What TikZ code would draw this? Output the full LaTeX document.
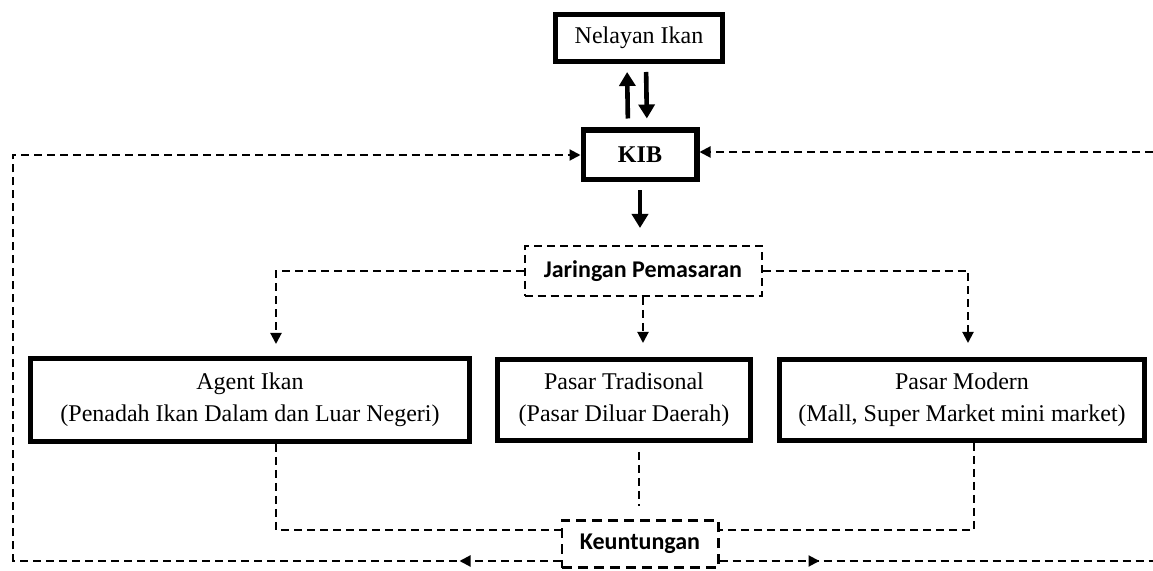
\documentclass[tikz,border=0pt]{standalone}
\usepackage{fontspec}
\setmainfont{Liberation Serif}
\newfontfamily\calibri{Carlito}
\usetikzlibrary{positioning}
\usetikzlibrary{arrows.meta}
\usetikzlibrary{decorations.markings}
\tikzset{thickbox/.style={draw, line width=2.6pt, align=center, inner sep=0pt,
font=\fontsize{12}{16}\selectfont},
dashbox/.style={draw, line width=1pt, dash pattern=on 4pt off 2.5pt, inner sep=0pt,
font=\calibri\bfseries\fontsize{12}{14}\selectfont}}

\begin{document}
\begin{tikzpicture}[x=0.5pt, y=-0.5pt,
	thickarrow/.style={line width=2.3pt, -{Triangle[length=7pt,width=8pt]}},
	dashline/.style={line width=1pt, dash pattern=on 4pt off 2.5pt},
	dasharrow/.style={dashline, -{Triangle[length=5.5pt,width=5.5pt]}},
	midtip/.style={postaction=decorate, decoration={markings,
		mark=at position #1 with {\arrow{Triangle[length=5.5pt,width=5.5pt]}}}}]

				\useasboundingbox (0,0) rectangle (1153,571);

				\node[thickbox, minimum width=83.4pt, minimum height=23.4pt] (nelayan) at (639,38) {Nelayan Ikan};
				\node[thickbox, minimum width=56.9pt, minimum height=24.9pt, font=\fontsize{12}{16}\selectfont\bfseries] (kib) at (640,155) {KIB};
				\node[dashbox, minimum width=118.5pt, minimum height=25pt] (jar) at (643,271) {Jaringan Pemasaran};
				\node[thickbox, minimum width=126.4pt, minimum height=40.4pt] (trad) at (624,400) {Pasar Tradisonal\\(Pasar Diluar Daerah)};
				\node[thickbox, minimum width=219.4pt, minimum height=41.4pt, left=11.5pt of trad] (agent) {Agent Ikan\\(Penadah Ikan Dalam dan Luar Negeri)};
				\node[thickbox, minimum width=182.4pt, minimum height=40.4pt, right=12pt of trad] (modern) {Pasar Modern\\(Mall, Super Market mini market)};
				\node[dashbox, line width=1.3pt, dash pattern=on 5pt off 3pt, minimum width=78.2pt, minimum height=23.7pt] (keun) at (640,544) {Keuntungan};

				\coordinate (edgeleft) at (13,300);
				\coordinate (rightlow) at (1153,561);
				\coordinate (righthigh) at (1153,152);
				\coordinate (tradout) at ([xshift=7.5pt]trad.south);

				% nelayan <-> KIB
				\draw[thickarrow, shorten <=4.5pt, shorten >=4pt] ([xshift=-6pt]kib.north) -- ([xshift=-6pt]nelayan.south);
				\draw[thickarrow, shorten <=4pt, shorten >=4.5pt] ([xshift=3.5pt]nelayan.south) -- ([xshift=3.5pt]kib.north);
				\draw[thickarrow, shorten <=4pt, shorten >=8.5pt] (kib.south) -- (kib.south |- jar.north);

				% jaringan ke pasar
				\draw[dasharrow, shorten >=6pt] (jar.west) -| ([xshift=13pt]agent.north);
				\draw[dasharrow, shorten >=7pt] (jar.south) -- (jar.south |- trad.north);
				\draw[dasharrow, shorten >=7pt] (jar.east) -| ([xshift=3pt]modern.north);

				% pasar ke keuntungan
				\draw[dashline] ([xshift=13pt]agent.south) |- ([yshift=7pt]keun.west);
				\draw[dashline, shorten <=4.5pt, shorten >=6.5pt] (tradout) -- (tradout |- keun.north);
				\draw[dashline] ([xshift=6pt]modern.south) |- ([yshift=7pt]keun.east);

				% keuntungan kembali ke KIB
				\draw[dasharrow, midtip=50.5pt] ([yshift=-8.5pt]keun.west) -| (edgeleft) |- (kib.west);
				\draw[dashline, midtip=50pt] ([yshift=-8.5pt]keun.east) -- (rightlow);
				\draw[dasharrow] (righthigh) -- (righthigh -| kib.east);
\end{tikzpicture}
\end{document}
